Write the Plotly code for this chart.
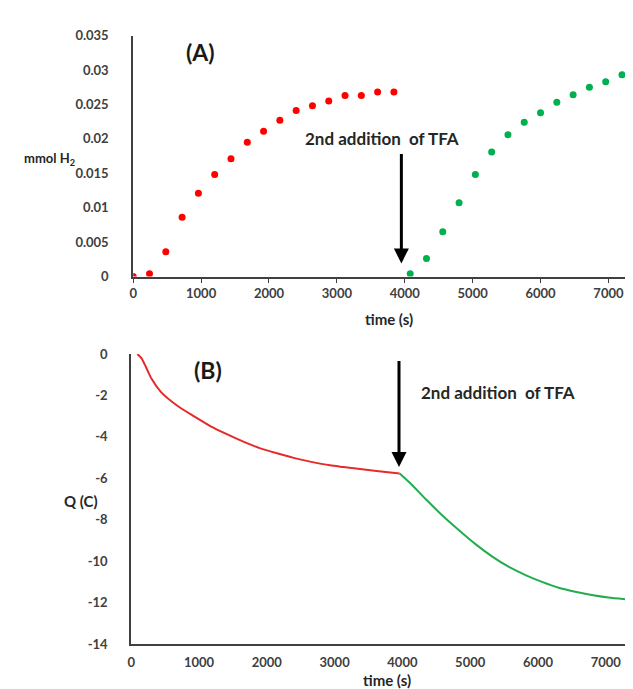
import plotly.graph_objects as go

W, H = 633, 689

# ---- Panel A data (mmol H2 vs time) ----
t_first = [0, 240, 480, 720, 960, 1200, 1440, 1680, 1920, 2160, 2400, 2640, 2880, 3120, 3360, 3600, 3840]
h2_first = [0, 0.0004, 0.0036, 0.0086, 0.0121, 0.0148, 0.0171, 0.0195, 0.0211, 0.0227, 0.0241,
            0.0248, 0.0255, 0.0263, 0.0263, 0.0268, 0.0268]
t_second = [4080, 4320, 4560, 4800, 5040, 5280, 5520, 5760, 6000, 6240, 6480, 6720, 6960, 7200]
h2_second = [0.0004, 0.0026, 0.0065, 0.0107, 0.0148, 0.0181, 0.0206, 0.0224, 0.0238, 0.0253,
             0.0264, 0.0275, 0.0283, 0.0293]

# ---- Panel B data (charge vs time) ----
tq_first = [90, 150, 220, 300, 440, 685, 928, 1173, 1418, 1662, 1906, 2151, 2395, 2639, 2933, 3128, 3617, 3960]
q_first = [0, -0.2, -0.65, -1.2, -1.84, -2.51, -3.01, -3.49, -3.88, -4.24, -4.55, -4.79, -5.01, -5.19,
           -5.37, -5.45, -5.64, -5.76]
tq_second = [3960, 4106, 4350, 4594, 4839, 5083, 5327, 5572, 5816, 6060, 6305, 6549, 6794, 7038, 7480]
q_second = [-5.76, -6.2, -7.02, -7.8, -8.51, -9.18, -9.77, -10.27, -10.66, -10.99, -11.27, -11.46,
            -11.62, -11.74, -11.88]

x_ticks = [0, 1000, 2000, 3000, 4000, 5000, 6000, 7000]
x_ticktext = ["0", "1000", "2000", "3000", "4000", "5000", "6000", "7000"]
ya_ticks = [0, 0.005, 0.01, 0.015, 0.02, 0.025, 0.03, 0.035]
ya_ticktext = ["0", "0.005", "0.01", "0.015", "0.02", "0.025", "0.03", "0.035"]
yb_ticks = [0, -2, -4, -6, -8, -10, -12, -14]
yb_ticktext = ["0", "-2", "-4", "-6", "-8", "-10", "-12", "-14"]

RED = "#ff0000"
GREEN = "#00b050"
RED_LINE = "#e62a2a"
GREEN_LINE = "#22ad4c"
AXIS = "#404040"
FONT = "Lato"
tickfont = dict(family=FONT, size=13, color="#404040", weight="bold")

fig = go.Figure()
fig.add_trace(go.Scatter(x=t_first, y=h2_first, mode="markers",
                         marker=dict(color=RED, size=7), xaxis="x", yaxis="y"))
fig.add_trace(go.Scatter(x=t_second, y=h2_second, mode="markers",
                         marker=dict(color=GREEN, size=7), xaxis="x", yaxis="y"))
fig.add_trace(go.Scatter(x=tq_first, y=q_first, mode="lines",
                         line=dict(color=RED_LINE, width=2, shape="spline", smoothing=0.6),
                         xaxis="x2", yaxis="y2"))
fig.add_trace(go.Scatter(x=tq_second, y=q_second, mode="lines",
                         line=dict(color=GREEN_LINE, width=2, shape="spline", smoothing=0.6),
                         xaxis="x2", yaxis="y2"))

def px(x):
    return x / W

def py(y):
    return 1 - y / H

axis_common = dict(showgrid=False, zeroline=False, showline=True, linecolor=AXIS, linewidth=2,
                   tickfont=tickfont)

fig.update_layout(
    width=W, height=H,
    margin=dict(l=0, r=0, t=0, b=0),
    paper_bgcolor="white", plot_bgcolor="white",
    showlegend=False,
    xaxis=dict(domain=[px(122), 1], range=[0, 7480], anchor="y", tickvals=x_ticks, ticktext=x_ticktext,
               ticks="outside", ticklen=4, tickcolor=AXIS, ticklabelstandoff=0, **axis_common),
    yaxis=dict(domain=[py(266.7), py(20)], range=[0, 0.035], anchor="x", tickvals=ya_ticks,
               ticktext=ya_ticktext, ticks="", ticklabelstandoff=20, **axis_common),
    xaxis2=dict(domain=[px(120), 1], range=[0, 7520], anchor="y2", tickvals=x_ticks, ticktext=x_ticktext,
                ticks="", ticklabelstandoff=5, **axis_common),
    yaxis2=dict(domain=[py(643.3), py(346)], range=[-14, 0], anchor="x2", tickvals=yb_ticks,
                ticktext=yb_ticktext, ticks="", ticklabelstandoff=19, **axis_common),
)

ann_font = dict(family=FONT, size=17, color="#262626", weight="bold")
title_font = dict(family=FONT, size=15, color="#262626", weight="bold")

annotations = [
    dict(text="(A)", x=px(190), y=py(37), font=dict(family=FONT, size=23, color="#1a1a1a", weight="bold")),
    dict(text="(B)", x=px(197), y=py(362), font=dict(family=FONT, size=23, color="#1a1a1a", weight="bold")),
    dict(text="mmol H<sub>2</sub>", x=px(38), y=py(146), font=dict(family=FONT, size=13, color="#262626", weight="bold")),
    dict(text="Q (C)", x=px(69), y=py(497), font=title_font),
    dict(text="time (s)", x=px(379), y=py(310), font=title_font),
    dict(text="time (s)", x=px(377), y=py(680), font=title_font),
    dict(text="2nd addition  of TFA", x=px(372), y=py(125), font=ann_font),
    dict(text="2nd addition  of TFA", x=px(489), y=py(385), font=ann_font),
]
for a in annotations:
    fig.add_annotation(xref="paper", yref="paper", showarrow=False, xanchor="center", yanchor="middle", **a)

# Arrows
fig.add_annotation(x=3950, y=0.0019, ax=3950, ay=0.018, xref="x", yref="y", axref="x", ayref="y",
                   text="", showarrow=True, arrowhead=2, arrowsize=1, arrowwidth=3, arrowcolor="black")
fig.add_annotation(x=3950, y=-5.45, ax=3950, ay=-0.27, xref="x2", yref="y2", axref="x2", ayref="y2",
                   text="", showarrow=True, arrowhead=2, arrowsize=1, arrowwidth=3, arrowcolor="black")

fig.write_html("out.html")
